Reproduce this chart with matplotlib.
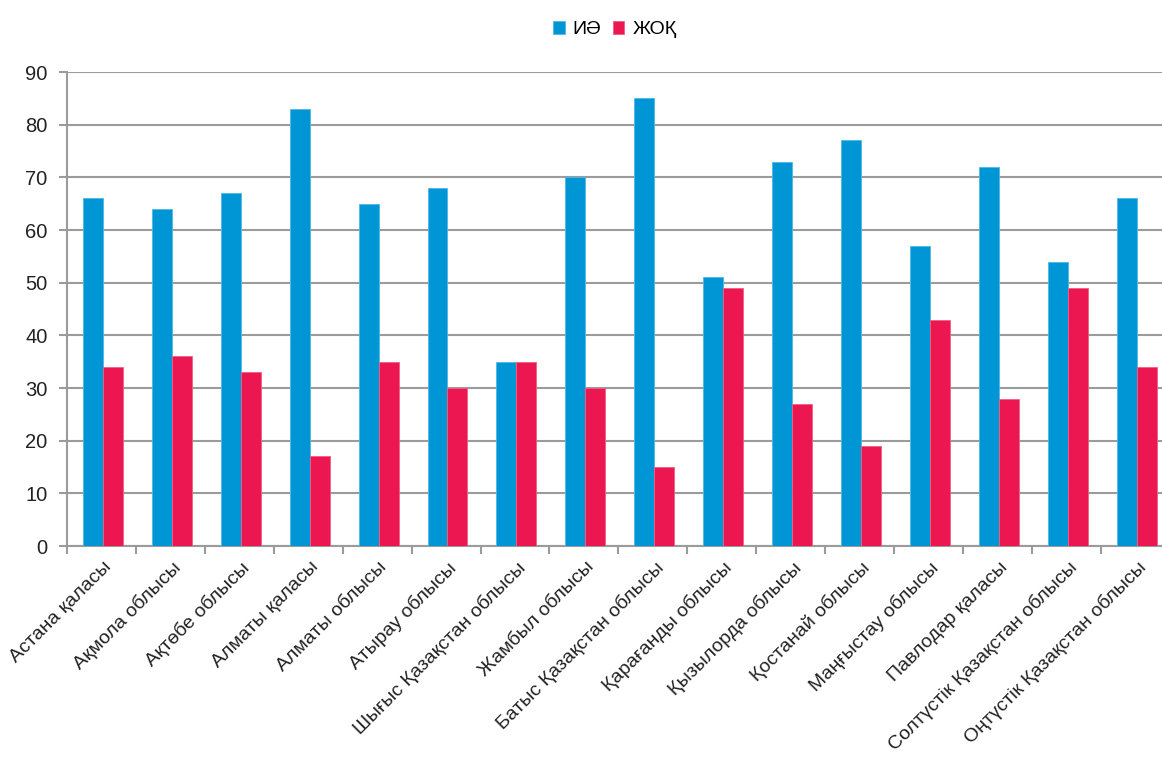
import matplotlib.pyplot as plt
import matplotlib.transforms as mtransforms
import numpy as np

plt.rcParams['font.family'] = ['Liberation Sans', 'DejaVu Sans']

regions = [
    "Астана қаласы", "Ақмола облысы", "Ақтөбе облысы", "Алматы қаласы",
    "Алматы облысы", "Атырау облысы", "Шығыс Қазақстан облысы", "Жамбыл облысы",
    "Батыс Қазақстан облысы", "Қарағанды облысы", "Қызылорда облысы",
    "Қостанай облысы", "Маңғыстау облысы", "Павлодар қаласы",
    "Солтүстік Қазақстан облысы", "Оңтүстік Қазақстан облысы",
]
yes_values = [66, 64, 67, 83, 65, 68, 35, 70, 85, 51, 73, 77, 57, 72, 54, 66]
no_values = [34, 36, 33, 17, 35, 30, 35, 30, 15, 49, 27, 19, 43, 28, 49, 34]
series_names = ["ИӘ", "ЖОҚ"]

blue = "#0096d6"
red = "#ec1651"
grid_gray = "#9b9b9b"
text_color = "#222222"

fig = plt.figure(figsize=(11.62, 7.59), dpi=100)
ax = fig.add_axes([0.0577, 0.2806, 0.949, 0.6245])

x = np.arange(len(regions)) + 0.52
w = 0.29
ax.bar(x - w / 2, yes_values, w, color=blue, edgecolor="#4fb8e6", linewidth=0.6,
       label=series_names[0], zorder=3)
ax.bar(x + w / 2, no_values, w, color=red, edgecolor="#f0607f", linewidth=0.6,
       label=series_names[1], zorder=3)

ax.set_xlim(0, len(regions))
ax.set_ylim(0, 90)
ax.set_yticks(range(0, 91, 10))
ax.set_xticks(np.arange(len(regions) + 1))
ax.set_xticklabels([])
ax.set_xticks(x, minor=True)
labels = ax.set_xticklabels(regions, minor=True, rotation=45, ha="right",
                            rotation_mode="anchor", fontsize=14, color=text_color)
# nudge rotated labels so their ends sit just right of the group centre
shift = mtransforms.ScaledTranslation(8 / 100, 0, fig.dpi_scale_trans)
for lbl in labels:
    lbl.set_transform(lbl.get_transform() + shift)
ax.tick_params(axis="x", which="minor", length=0, pad=9)
ax.tick_params(axis="x", which="major", length=6, width=1.5, color=grid_gray)
ax.tick_params(axis="y", length=6, width=1.5, color=grid_gray, labelsize=14.5,
               labelcolor=text_color, pad=8)

ax.grid(axis="y", color=grid_gray, linewidth=1.5, zorder=0)
for side in ("top", "right"):
    ax.spines[side].set_visible(False)
for side in ("left", "bottom"):
    ax.spines[side].set_color(grid_gray)
    ax.spines[side].set_linewidth(1.5)

fig.legend(loc="upper center", bbox_to_anchor=(0.529, 0.995), ncol=2, frameon=False,
           fontsize=14, handlelength=0.6, handleheight=0.6, handletextpad=0.4,
           columnspacing=0.6)

fig.savefig("out.png", dpi=100)
